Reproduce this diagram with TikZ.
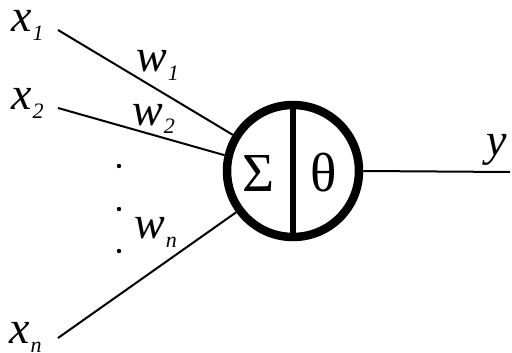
\documentclass[tikz,border=0pt]{standalone}
\usepackage{fontspec}
\setmainfont{Liberation Serif}
\usetikzlibrary{positioning}

% italic letter with a lowered index
\newcommand{\idx}[2]{\textit{#1}\kern1pt\raisebox{-9pt}{\fontsize{22}{22}\selectfont\textit{#2}}}

\tikzset{
  lbl/.style={anchor=base west, inner sep=0pt, text height=20pt, text depth=9pt,
    font=\fontsize{46}{46}\selectfont},
  greek/.style={inner sep=0pt, font=\fontsize{55}{55}\selectfont},
  wire/.style={line width=2pt},
  neuron/.style={circle, draw, line width=8.5pt, minimum size=132pt, inner sep=0pt}
}

\begin{document}
\begin{tikzpicture}[x=1pt,y=-1pt]
    \useasboundingbox (0,0) rectangle (512,353);

    % the neuron
    \node[neuron] (n) at (293,171) {};
    \draw[line width=6pt] (n.north) -- (n.south);
    \node[greek] (sum) at (259,173) {Σ};
    \node[greek] (act) at (324,173) {θ};

    % inputs
    \node[lbl] (x1) at (11,32) {\idx{x}{1}};
    \node[lbl] (x2) at (11,110) {\idx{x}{2}};
    \node[lbl] (xn) at (9,343) {\idx{x}{n}};
    \coordinate (s1) at (58,30);
    \coordinate (s2) at (58,108);
    \coordinate (sn) at (58,338);
    \draw[wire] (s1) -- (n.149);
    \draw[wire] (s2) -- (n.167);
    \draw[wire] (sn) -- (n.216);

    % weights
    \node[lbl] (w1) at (136,72) {\idx{w}{1}};
    \node[lbl] (w2) at (132,125) {\idx{w}{2}};
    \node[lbl] (wn) at (134,238) {\idx{w}{n}};
    \foreach \yy in {166,209,251}
        \fill (119,\yy) circle (2.2pt);

    % output
    \coordinate (out) at (510,172);
    \draw[wire] (n.east) -- (out);
    \node[lbl] (y) at (486,155) {\textit{y}};
\end{tikzpicture}
\end{document}
